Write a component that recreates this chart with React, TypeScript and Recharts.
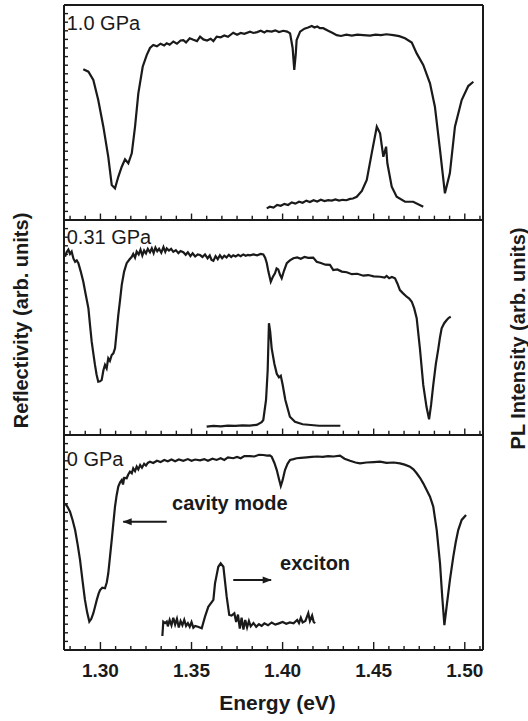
import { LineChart, Line, XAxis, YAxis, ReferenceLine, ReferenceDot, Label } from 'recharts';

const FONT = 'Liberation Sans, Arial, Helvetica, sans-serif';
const INK = '#1a1a1a';

const energyTicks = [1.3, 1.35, 1.4, 1.45, 1.5];
const energyDomain = [1.28, 1.51];
const panelNames = ['0 GPa', '0.31 GPa', '1.0 GPa'];

// [energy (eV), reflectivity (arb. units)]
const refl0GPa: [number, number][] = [
  [1.2806, 0.682], [1.282, 0.665], [1.2833, 0.643], [1.2847, 0.605], [1.2861, 0.558], [1.2875, 0.49],
  [1.2888, 0.419], [1.2902, 0.32], [1.2915, 0.233], [1.2927, 0.175], [1.2939, 0.132], [1.295, 0.145],
  [1.2961, 0.171], [1.297, 0.2], [1.298, 0.233], [1.299, 0.262], [1.2998, 0.279], [1.301, 0.29],
  [1.3025, 0.287], [1.3035, 0.315], [1.3043, 0.357], [1.3052, 0.43], [1.3062, 0.512], [1.3071, 0.59],
  [1.308, 0.667], [1.3089, 0.72], [1.3098, 0.76], [1.3108, 0.78], [1.3117, 0.791], [1.3124, 0.77],
  [1.313, 0.8], [1.3144, 0.799], [1.3152, 0.815], [1.3162, 0.829], [1.3172, 0.822], [1.318, 0.845],
  [1.319, 0.832], [1.3199, 0.853], [1.3208, 0.84], [1.3218, 0.86], [1.3228, 0.848], [1.324, 0.866],
  [1.325, 0.858], [1.326, 0.87], [1.3272, 0.876], [1.329, 0.87], [1.331, 0.88], [1.333, 0.874],
  [1.335, 0.884], [1.337, 0.878], [1.339, 0.886], [1.341, 0.878], [1.343, 0.886], [1.3455, 0.88],
  [1.348, 0.888], [1.35, 0.88], [1.352, 0.886], [1.3547, 0.882], [1.357, 0.888], [1.359, 0.88],
  [1.3615, 0.89], [1.3638, 0.884], [1.366, 0.892], [1.368, 0.884], [1.37, 0.896], [1.3729, 0.892],
  [1.375, 0.898], [1.377, 0.892], [1.379, 0.902], [1.3821, 0.902], [1.3845, 0.9], [1.387, 0.908],
  [1.3894, 0.907], [1.3915, 0.904], [1.393, 0.905], [1.394, 0.899], [1.3955, 0.87], [1.3968, 0.837],
  [1.398, 0.795], [1.399, 0.763], [1.4, 0.79], [1.4013, 0.837], [1.4027, 0.866], [1.4041, 0.884],
  [1.406, 0.888], [1.4077, 0.892], [1.41, 0.894], [1.4132, 0.896], [1.416, 0.898], [1.419, 0.9],
  [1.422, 0.898], [1.425, 0.902], [1.428, 0.9], [1.4315, 0.904], [1.434, 0.89], [1.437, 0.88],
  [1.44, 0.872], [1.4425, 0.868], [1.446, 0.872], [1.45, 0.874], [1.4535, 0.876], [1.457, 0.87],
  [1.461, 0.872], [1.4644, 0.868], [1.467, 0.862], [1.4699, 0.853], [1.4718, 0.84], [1.4736, 0.822],
  [1.4755, 0.8], [1.4772, 0.775], [1.479, 0.745], [1.4809, 0.713], [1.4827, 0.667], [1.4846, 0.558],
  [1.4864, 0.403], [1.4876, 0.25], [1.4888, 0.116], [1.49, 0.2], [1.4919, 0.33], [1.4937, 0.434],
  [1.495, 0.5], [1.4964, 0.558], [1.4983, 0.605], [1.5007, 0.628],
];

const refl031GPa: [number, number][] = [
  [1.2806, 0.829], [1.2814, 0.85], [1.2824, 0.862], [1.2833, 0.842], [1.2842, 0.853], [1.2852, 0.82],
  [1.2861, 0.806], [1.287, 0.812], [1.2879, 0.799], [1.2892, 0.76], [1.2906, 0.713], [1.292, 0.65],
  [1.2934, 0.589], [1.2943, 0.51], [1.2952, 0.434], [1.2961, 0.38], [1.297, 0.326], [1.2979, 0.28],
  [1.2988, 0.248], [1.2998, 0.25], [1.3007, 0.256], [1.3016, 0.3], [1.3025, 0.326], [1.3034, 0.31],
  [1.3043, 0.357], [1.3052, 0.345], [1.3062, 0.372], [1.3071, 0.38], [1.308, 0.403], [1.3089, 0.48],
  [1.3098, 0.558], [1.3108, 0.63], [1.3117, 0.698], [1.313, 0.76], [1.3144, 0.799], [1.3158, 0.815],
  [1.3172, 0.829], [1.318, 0.842], [1.319, 0.825], [1.3199, 0.853], [1.321, 0.84], [1.322, 0.862],
  [1.323, 0.835], [1.324, 0.858], [1.325, 0.845], [1.326, 0.866], [1.3272, 0.85], [1.3282, 0.868],
  [1.3292, 0.846], [1.3302, 0.872], [1.3312, 0.855], [1.3322, 0.866], [1.3334, 0.848], [1.3346, 0.874],
  [1.3356, 0.852], [1.3364, 0.868], [1.3376, 0.858], [1.3388, 0.866], [1.34, 0.852], [1.3414, 0.86],
  [1.3428, 0.846], [1.344, 0.856], [1.3455, 0.85], [1.3468, 0.838], [1.348, 0.85], [1.3494, 0.832],
  [1.3506, 0.845], [1.352, 0.83], [1.3534, 0.84], [1.3547, 0.837], [1.356, 0.828], [1.3574, 0.84],
  [1.3588, 0.822], [1.36, 0.835], [1.361, 0.814], [1.362, 0.81], [1.3632, 0.832], [1.3644, 0.818],
  [1.3656, 0.836], [1.3668, 0.822], [1.368, 0.834], [1.3692, 0.826], [1.3705, 0.838], [1.3718, 0.828],
  [1.3729, 0.836], [1.3742, 0.83], [1.3756, 0.838], [1.377, 0.832], [1.3784, 0.84], [1.3798, 0.834],
  [1.381, 0.838], [1.3821, 0.836], [1.384, 0.84], [1.386, 0.836], [1.388, 0.842], [1.3894, 0.84],
  [1.3904, 0.825], [1.3913, 0.8], [1.3922, 0.76], [1.3935, 0.713], [1.3946, 0.735], [1.3958, 0.752],
  [1.3967, 0.775], [1.3976, 0.77], [1.3986, 0.745], [1.3995, 0.729], [1.4008, 0.765], [1.4023, 0.799],
  [1.404, 0.812], [1.4059, 0.822], [1.408, 0.826], [1.41, 0.82], [1.412, 0.828], [1.414, 0.824],
  [1.4168, 0.825], [1.4187, 0.806], [1.421, 0.8], [1.4235, 0.792], [1.426, 0.791], [1.4278, 0.767],
  [1.43, 0.77], [1.4325, 0.76], [1.4352, 0.757], [1.438, 0.748], [1.441, 0.75], [1.4443, 0.741],
  [1.447, 0.744], [1.45, 0.738], [1.4535, 0.736], [1.456, 0.732], [1.4571, 0.74], [1.4585, 0.729],
  [1.46, 0.735], [1.4617, 0.729], [1.463, 0.705], [1.4644, 0.674], [1.466, 0.66], [1.4681, 0.643],
  [1.4695, 0.635], [1.4709, 0.62], [1.4722, 0.59], [1.4736, 0.543], [1.4754, 0.4], [1.4772, 0.233],
  [1.479, 0.13], [1.4804, 0.073], [1.4815, 0.14], [1.4827, 0.233], [1.4841, 0.33], [1.4855, 0.403],
  [1.4864, 0.455], [1.4873, 0.496], [1.4887, 0.52], [1.4901, 0.535], [1.4912, 0.545], [1.4923, 0.55],
];

const refl10GPa: [number, number][] = [
  [1.2906, 0.701], [1.2934, 0.69], [1.2961, 0.651], [1.2988, 0.558], [1.3016, 0.434], [1.3043, 0.294],
  [1.3062, 0.163], [1.308, 0.147], [1.3098, 0.201], [1.3117, 0.248], [1.3135, 0.282], [1.3153, 0.264],
  [1.3172, 0.31], [1.319, 0.434], [1.3208, 0.589], [1.3232, 0.713], [1.3254, 0.767], [1.3272, 0.8],
  [1.329, 0.814], [1.331, 0.808], [1.333, 0.82], [1.335, 0.812], [1.3364, 0.822], [1.338, 0.815],
  [1.34, 0.83], [1.342, 0.82], [1.344, 0.835], [1.3455, 0.837], [1.347, 0.826], [1.349, 0.845],
  [1.351, 0.838], [1.353, 0.832], [1.3547, 0.853], [1.3565, 0.84], [1.3585, 0.835], [1.3605, 0.843],
  [1.362, 0.832], [1.3638, 0.853], [1.366, 0.85], [1.368, 0.858], [1.37, 0.852], [1.3729, 0.871],
  [1.375, 0.862], [1.377, 0.87], [1.379, 0.866], [1.3821, 0.876], [1.384, 0.87], [1.386, 0.874],
  [1.388, 0.88], [1.39, 0.872], [1.3913, 0.88], [1.394, 0.876], [1.396, 0.882], [1.398, 0.874],
  [1.4004, 0.88], [1.4025, 0.876], [1.4041, 0.868], [1.4055, 0.8], [1.4064, 0.698], [1.4072, 0.77],
  [1.4077, 0.837], [1.4096, 0.876], [1.412, 0.89], [1.414, 0.895], [1.416, 0.902], [1.4175, 0.895],
  [1.419, 0.9], [1.4205, 0.892], [1.4223, 0.892], [1.425, 0.88], [1.4275, 0.87], [1.4297, 0.86],
  [1.432, 0.856], [1.435, 0.862], [1.438, 0.858], [1.441, 0.862], [1.4443, 0.86], [1.448, 0.858],
  [1.451, 0.862], [1.454, 0.86], [1.457, 0.864], [1.4608, 0.86], [1.464, 0.855], [1.4672, 0.845],
  [1.4709, 0.825], [1.4736, 0.775], [1.4772, 0.721], [1.4809, 0.636], [1.4836, 0.527], [1.4864, 0.326],
  [1.4891, 0.124], [1.4918, 0.217], [1.4946, 0.434], [1.4983, 0.558], [1.5019, 0.623], [1.5047, 0.643],
];

// [energy (eV), PL intensity (arb. units)]
const pl0GPa: [number, number][] = [
  [1.334, 0.065], [1.3345, 0.132], [1.3355, 0.125], [1.3364, 0.132], [1.337, 0.11], [1.338, 0.14],
  [1.339, 0.115], [1.34, 0.15], [1.341, 0.118], [1.342, 0.145], [1.343, 0.105], [1.344, 0.135],
  [1.345, 0.115], [1.346, 0.14], [1.347, 0.112], [1.348, 0.125], [1.349, 0.108], [1.35, 0.13],
  [1.351, 0.104], [1.352, 0.112], [1.3535, 0.108], [1.3556, 0.101], [1.3574, 0.155], [1.3592, 0.201],
  [1.362, 0.233], [1.3629, 0.31], [1.3647, 0.387], [1.366, 0.403], [1.3675, 0.387], [1.3693, 0.248],
  [1.3707, 0.163], [1.372, 0.16], [1.3735, 0.171], [1.3745, 0.13], [1.3755, 0.165], [1.3765, 0.1],
  [1.3775, 0.15], [1.3785, 0.095], [1.3795, 0.14], [1.3805, 0.105], [1.3815, 0.135], [1.3825, 0.11],
  [1.384, 0.125], [1.3855, 0.108], [1.387, 0.12], [1.3885, 0.112], [1.39, 0.124], [1.392, 0.115],
  [1.394, 0.128], [1.396, 0.118], [1.398, 0.124], [1.4, 0.13], [1.402, 0.122], [1.404, 0.128],
  [1.406, 0.124], [1.408, 0.14], [1.409, 0.125], [1.41, 0.15], [1.411, 0.128], [1.4125, 0.135],
  [1.4141, 0.171], [1.415, 0.135], [1.4162, 0.16], [1.417, 0.132], [1.4178, 0.124],
];

const pl031GPa: [number, number][] = [
  [1.3583, 0.039], [1.362, 0.042], [1.366, 0.04], [1.37, 0.044], [1.374, 0.042], [1.378, 0.045],
  [1.382, 0.044], [1.3858, 0.047], [1.3885, 0.06], [1.3894, 0.07], [1.3909, 0.163], [1.3918, 0.3],
  [1.3925, 0.52], [1.3932, 0.48], [1.394, 0.403], [1.3955, 0.33], [1.3968, 0.285], [1.398, 0.268],
  [1.399, 0.275], [1.4, 0.235], [1.4015, 0.163], [1.404, 0.085], [1.4068, 0.062], [1.411, 0.05],
  [1.42, 0.043], [1.4317, 0.043],
];

const pl10GPa: [number, number][] = [
  [1.3913, 0.054], [1.393, 0.062], [1.395, 0.058], [1.397, 0.07], [1.399, 0.066], [1.401, 0.075],
  [1.403, 0.07], [1.405, 0.082], [1.407, 0.076], [1.409, 0.085], [1.411, 0.08], [1.413, 0.09],
  [1.415, 0.084], [1.417, 0.092], [1.419, 0.086], [1.421, 0.094], [1.423, 0.088], [1.425, 0.092],
  [1.427, 0.09], [1.429, 0.096], [1.431, 0.09], [1.433, 0.094], [1.435, 0.092], [1.437, 0.098],
  [1.4386, 0.1], [1.4407, 0.108], [1.4435, 0.135], [1.4462, 0.186], [1.4489, 0.31], [1.4517, 0.434],
  [1.4535, 0.403], [1.4553, 0.294], [1.4568, 0.341], [1.4575, 0.264], [1.4599, 0.155], [1.4626, 0.108],
  [1.4672, 0.085], [1.4717, 0.085], [1.4772, 0.062],
];

const panels = [
  { name: panelNames[0], refl: refl0GPa, pl: pl0GPa, labelY: 0.888 },
  { name: panelNames[1], refl: refl031GPa, pl: pl031GPa, labelY: 0.922 },
  { name: panelNames[2], refl: refl10GPa, pl: pl10GPa, labelY: 0.918 },
];

// tick marks: majors every 0.05 eV, six subdivisions between them
const energyTickMarks = Array.from({ length: 28 }, (_, i) => 1.3 + ((i - 2) * 0.05) / 6);
const leftTickMarks = Array.from({ length: 76 }, (_, i) => (i * 3) / 75);
const rightTickMarks = Array.from({ length: 151 }, (_, i) => (i * 3) / 150);

const isMajor = (v: number) => energyTicks.some((t) => Math.abs(t - v) < 1e-6);

const stack = (pts: [number, number][], offset: number) => pts.map(([x, y]) => ({ x, y: y + offset }));

// ticks point into the plot; the axis itself draws them from these components
const BottomTick = (props: any) => {
  const { x, y, payload } = props;
  const major = isMajor(payload.value);
  return (
    <g>
      <line x1={x} x2={x} y1={y} y2={y - (major ? 8 : 4)} stroke={INK} strokeWidth={1.4} />
      {major && (
        <text x={x} y={y + 27} textAnchor="middle" fontSize={19} fontWeight="bold" fontFamily={FONT} fill={INK}>
          {payload.value.toFixed(2)}
        </text>
      )}
    </g>
  );
};
const TopTick = (props: any) => (
  <line x1={props.x} x2={props.x} y1={props.y} y2={props.y + 4} stroke={INK} strokeWidth={1.4} />
);
const LeftTick = (props: any) => (
  <line x1={props.x} x2={props.x + 4} y1={props.y} y2={props.y} stroke={INK} strokeWidth={1.4} />
);
const RightTick = (props: any) => (
  <line x1={props.x} x2={props.x - 3} y1={props.y} y2={props.y} stroke={INK} strokeWidth={1} />
);

const textShape = (text: string, size: number, weight: string) => (p: any) => (
  <text x={p.cx} y={p.cy} dominantBaseline="central" fontSize={size} fontWeight={weight} fontFamily={FONT} fill={INK}>
    {text}
  </text>
);

const arrowHead = (dir: number) => (p: any) => (
  <polygon
    points={`${p.cx},${p.cy} ${p.cx - dir * 9},${p.cy - 3.5} ${p.cx - dir * 9},${p.cy + 3.5}`}
    fill={INK}
  />
);

export default function App() {
  return (
    <div style={{ position: 'absolute', left: 0, top: 0, width: 528, height: 721, background: '#fff' }}>
      <LineChart width={528} height={721} margin={{ top: 4, right: 0, bottom: 0, left: 0 }}>
        <XAxis
          dataKey="x"
          type="number"
          domain={energyDomain}
          ticks={energyTickMarks}
          interval={0}
          height={71}
          tickSize={0}
          tickMargin={0}
          tickLine={false}
          tick={<BottomTick />}
          axisLine={{ stroke: INK, strokeWidth: 2 }}
        >
          <Label
            content={({ viewBox }: any) => (
              <text
                x={viewBox.x + viewBox.width / 2 + 4}
                y={viewBox.y + 60}
                textAnchor="middle"
                fontSize={21}
                fontWeight="bold"
                fontFamily={FONT}
                fill={INK}
              >
                Energy (eV)
              </text>
            )}
          />
        </XAxis>
        <XAxis
          xAxisId="top"
          orientation="top"
          dataKey="x"
          type="number"
          domain={energyDomain}
          ticks={energyTickMarks}
          interval={0}
          height={1}
          tickSize={0}
          tickMargin={0}
          tickLine={false}
          tick={<TopTick />}
          axisLine={{ stroke: INK, strokeWidth: 2 }}
        />
        <YAxis
          type="number"
          domain={[0, 3]}
          ticks={leftTickMarks}
          interval={0}
          width={64}
          tickSize={0}
          tickMargin={0}
          tickLine={false}
          tick={<LeftTick />}
          axisLine={{ stroke: INK, strokeWidth: 2 }}
        >
          <Label
            content={({ viewBox }: any) => (
              <text
                transform={`translate(${viewBox.x + 21}, ${viewBox.y + viewBox.height / 2 - 7}) rotate(-90)`}
                textAnchor="middle"
                dominantBaseline="central"
                fontSize={20}
                fontWeight="bold"
                fontFamily={FONT}
                fill={INK}
              >
                Reflectivity (arb. units)
              </text>
            )}
          />
        </YAxis>
        <YAxis
          yAxisId="r"
          orientation="right"
          type="number"
          domain={[0, 3]}
          ticks={rightTickMarks}
          interval={0}
          width={45}
          tickSize={0}
          tickMargin={0}
          tickLine={false}
          tick={<RightTick />}
          axisLine={{ stroke: INK, strokeWidth: 2 }}
        >
          <Label
            content={({ viewBox }: any) => (
              <text
                transform={`translate(${viewBox.x + 35}, ${viewBox.y + viewBox.height / 2 + 11}) rotate(-90)`}
                textAnchor="middle"
                dominantBaseline="central"
                fontSize={20}
                fontWeight="bold"
                fontFamily={FONT}
                fill={INK}
              >
                PL Intensity (arb. units)
              </text>
            )}
          />
        </YAxis>

        {[1, 2].map((k) => (
          <ReferenceLine key={`div${k}`} y={k} stroke={INK} strokeWidth={2} />
        ))}
        {[1, 2].flatMap((k) =>
          energyTickMarks.map((t, i) => (
            <ReferenceLine
              key={`dt${k}-${i}`}
              segment={[
                { x: t, y: k },
                { x: t, y: k + (isMajor(t) ? 0.03 : 0.02) },
              ]}
              stroke={INK}
              strokeWidth={1.4}
              ifOverflow="visible"
            />
          ))
        )}

        {panels.map((p, i) => (
          <Line
            key={`refl${i}`}
            data={stack(p.refl, i)}
            dataKey="y"
            type="linear"
            dot={false}
            stroke={INK}
            strokeWidth={2.2}
            isAnimationActive={false}
          />
        ))}
        {panels.map((p, i) => (
          <Line
            key={`pl${i}`}
            data={stack(p.pl, i)}
            dataKey="y"
            type="linear"
            dot={false}
            stroke={INK}
            strokeWidth={2.2}
            isAnimationActive={false}
          />
        ))}

        {panels.map((p, i) => (
          <ReferenceDot key={`lab${i}`} x={1.2815} y={p.labelY + i} r={0} shape={textShape(p.name, 20, 'normal')} />
        ))}

        <ReferenceDot x={1.3393} y={0.684} r={0} shape={textShape('cavity mode', 20, 'bold')} />
        <ReferenceLine segment={[{ x: 1.3364, y: 0.597 }, { x: 1.3125, y: 0.597 }]} stroke={INK} strokeWidth={2} />
        <ReferenceDot x={1.3122} y={0.597} r={0} shape={arrowHead(-1)} />

        <ReferenceDot x={1.3986} y={0.405} r={0} shape={textShape('exciton', 20, 'bold')} />
        <ReferenceLine segment={[{ x: 1.3729, y: 0.326 }, { x: 1.3937, y: 0.326 }]} stroke={INK} strokeWidth={2} />
        <ReferenceDot x={1.394} y={0.326} r={0} shape={arrowHead(1)} />
      </LineChart>
    </div>
  );
}
